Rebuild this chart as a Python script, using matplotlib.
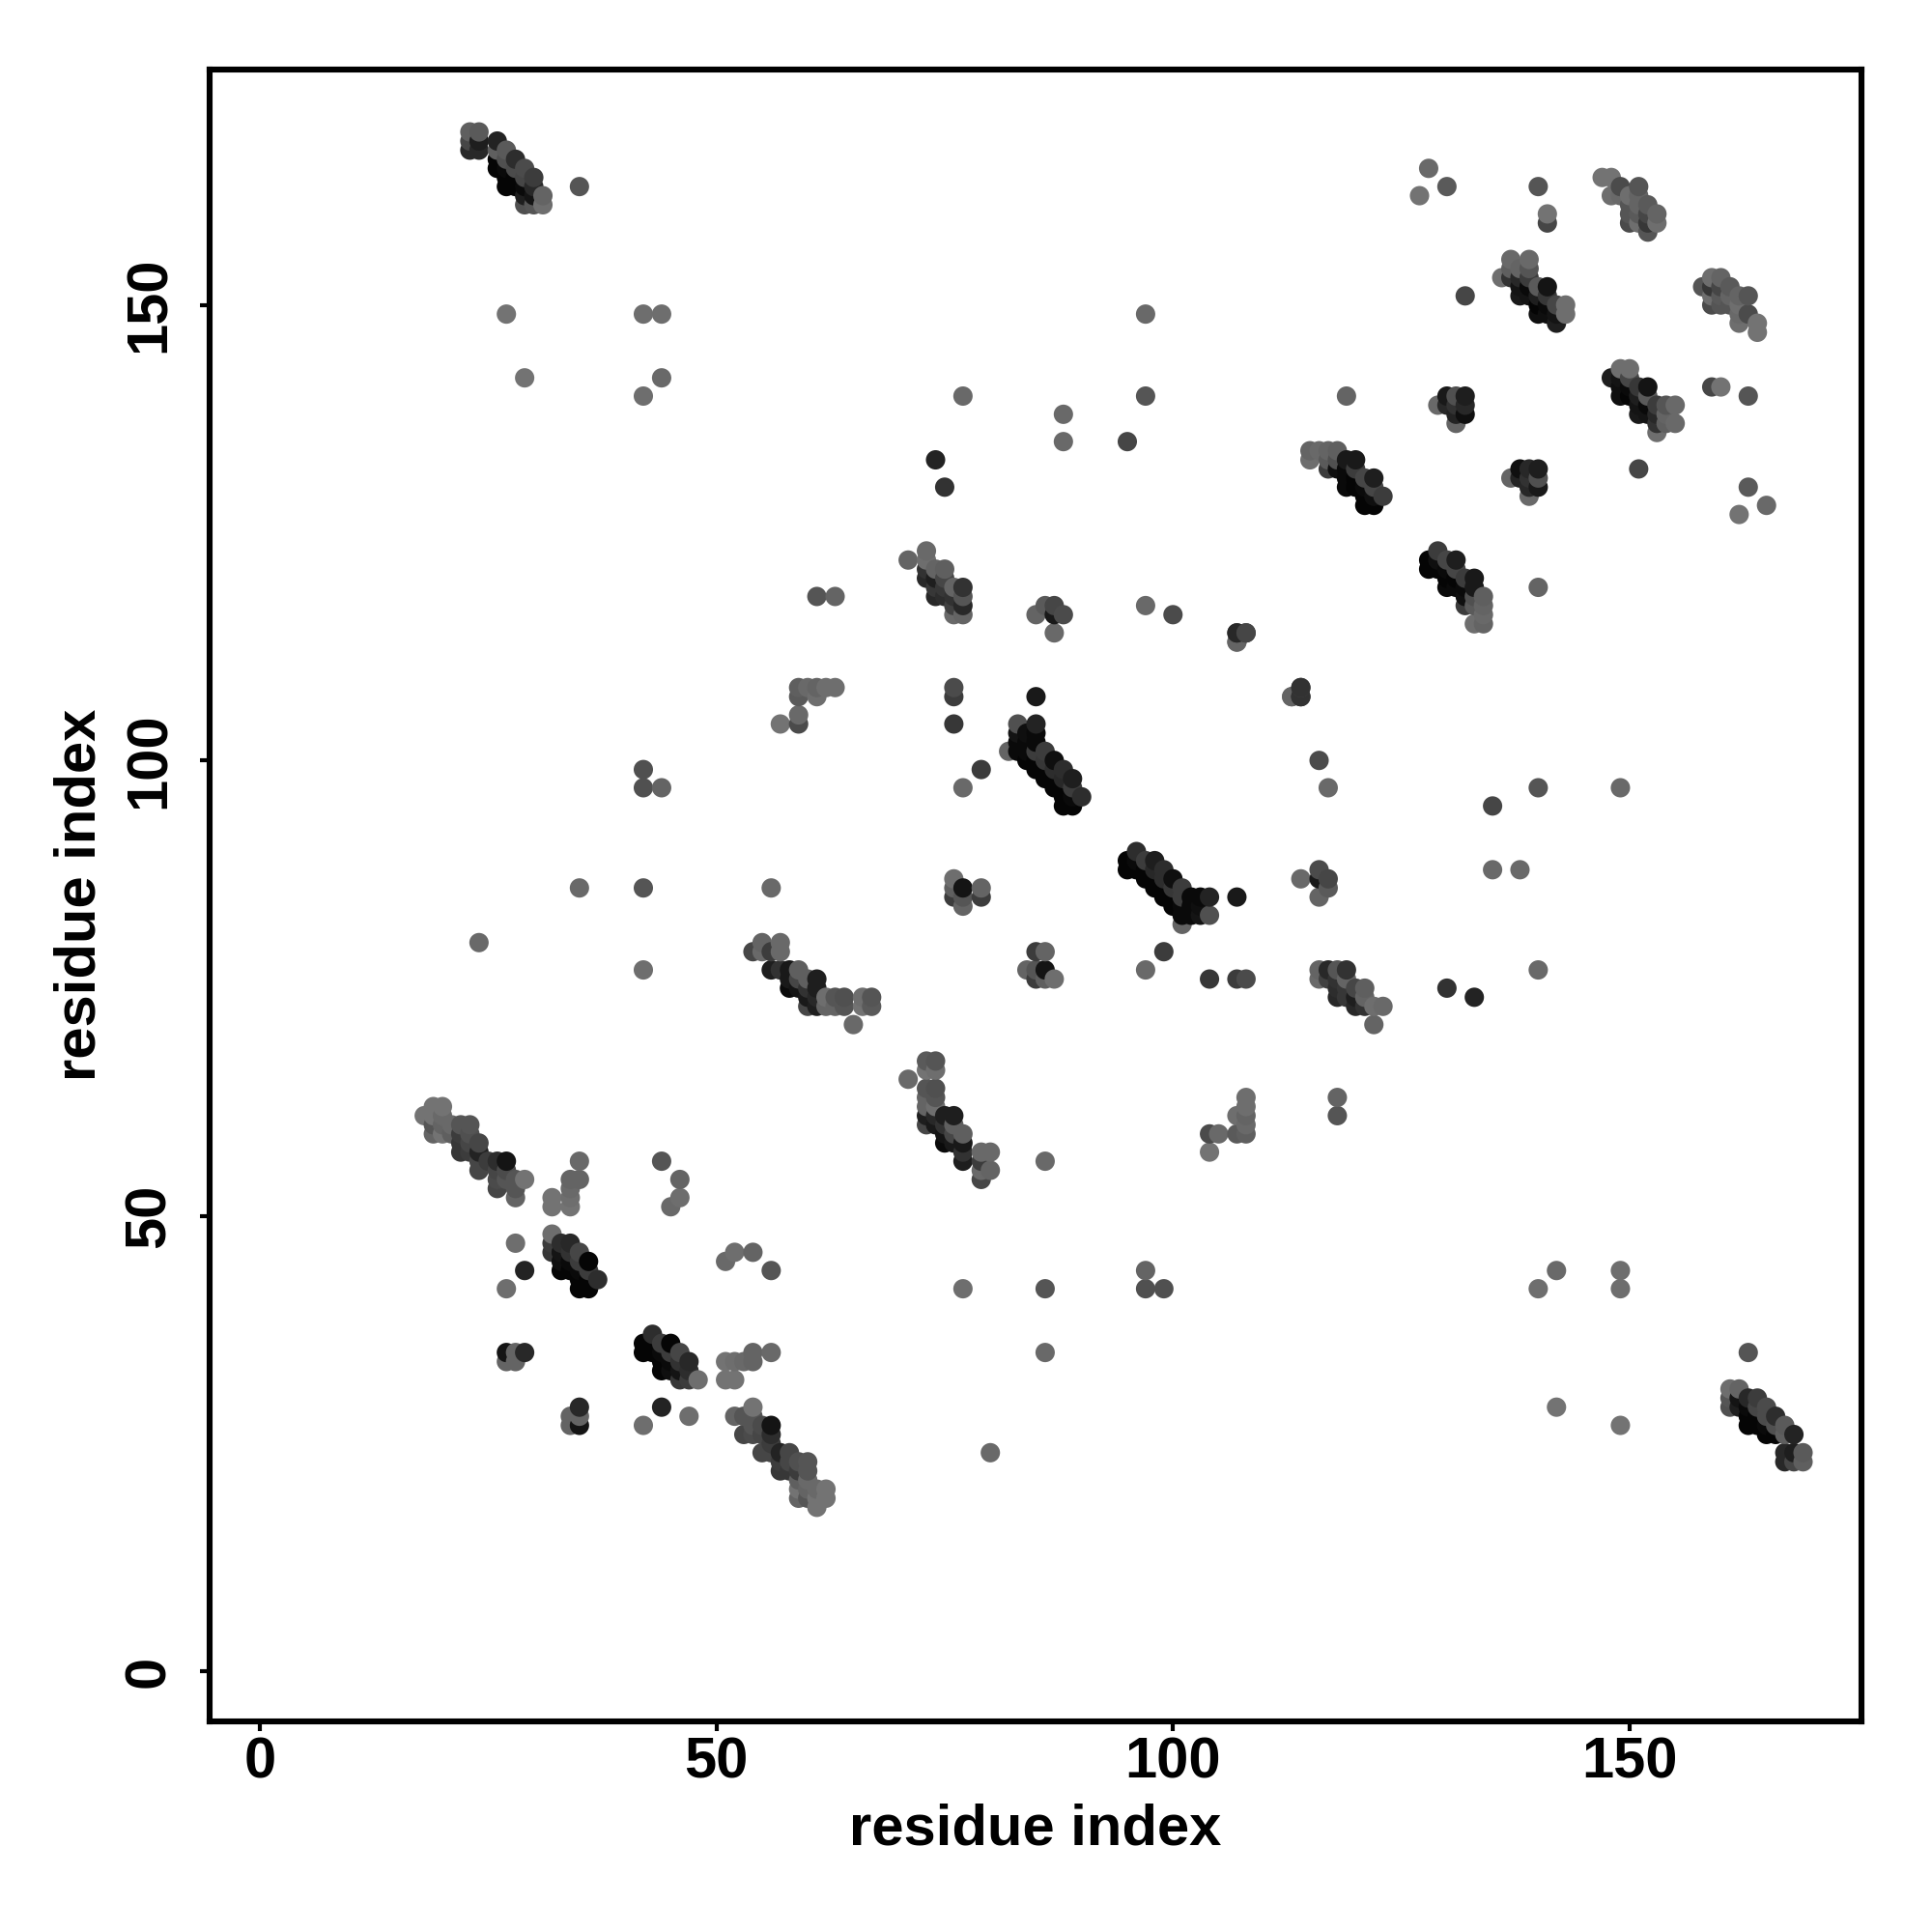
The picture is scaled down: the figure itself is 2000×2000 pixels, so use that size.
import matplotlib

matplotlib.use("Agg")
import matplotlib.pyplot as plt
import pandas as pd

# contacts as (residue i, residue j, grey level), i < j; the map is symmetric
sheet_23_31 = [
    (23, 169, 95), (24, 169, 90), (23, 168, 70), (24, 168, 30), (23, 167, 40), (24, 167, 40),
    (26, 168, 35), (26, 167, 95), (26, 166, 5), (26, 165, 5), (27, 167, 90), (27, 166, 80),
    (27, 165, 10), (27, 164, 5), (27, 163, 5), (28, 166, 45), (28, 165, 75), (28, 164, 5),
    (28, 163, 5), (29, 165, 75), (29, 164, 70), (29, 163, 10), (29, 162, 30), (29, 161, 80),
    (30, 164, 60), (30, 163, 40), (30, 162, 20), (30, 161, 85), (31, 162, 100), (31, 161, 110),
]
sheet_18_29 = [
    (18, 61, 115), (19, 62, 115), (20, 62, 115), (19, 61, 115), (20, 61, 105), (19, 60, 85),
    (20, 60, 100), (19, 59, 100), (20, 59, 115), (21, 60, 105), (21, 59, 95), (22, 60, 85),
    (23, 60, 85), (22, 59, 60), (22, 58, 55), (22, 57, 55), (23, 59, 80), (23, 58, 70),
    (23, 57, 60), (24, 58, 70), (24, 57, 35), (24, 56, 70), (24, 55, 70), (25, 56, 60),
    (26, 56, 45), (27, 56, 20), (26, 55, 70), (26, 54, 75), (26, 53, 70), (27, 55, 75),
    (27, 54, 85), (28, 54, 85), (28, 53, 85), (28, 52, 100), (29, 54, 115),
]
sheet_32_37 = [
    (32, 48, 110), (32, 47, 60), (32, 46, 55), (33, 47, 45), (33, 46, 20), (33, 45, 15),
    (33, 44, 5), (34, 47, 40), (34, 46, 50), (34, 45, 10), (34, 44, 5), (35, 46, 70),
    (35, 45, 60), (35, 44, 10), (35, 43, 5), (35, 42, 5), (36, 45, 5), (36, 44, 60),
    (36, 43, 5), (36, 42, 5), (37, 43, 45),
]
sheet_54_67 = [
    (54, 79, 70), (55, 80, 100), (55, 79, 105), (56, 79, 60), (56, 77, 30), (57, 80, 105),
    (57, 79, 105), (57, 77, 50), (58, 77, 25), (58, 76, 25), (58, 75, 10), (59, 77, 95),
    (59, 76, 70), (59, 75, 20), (60, 76, 95), (60, 75, 50), (60, 74, 25), (60, 73, 70),
    (61, 76, 30), (61, 75, 30), (61, 74, 40), (61, 73, 30), (62, 74, 110), (62, 73, 100),
    (63, 74, 85), (63, 73, 100), (64, 74, 80), (64, 73, 85), (65, 71, 105), (66, 74, 110),
    (66, 73, 115), (67, 74, 85), (67, 73, 90),
]
sheet_71_88 = [
    (71, 122, 100), (73, 123, 105), (73, 122, 110), (73, 121, 50), (73, 120, 40), (74, 121, 100),
    (74, 120, 30), (74, 119, 55), (74, 118, 40), (75, 121, 95), (75, 120, 70), (75, 119, 55),
    (75, 118, 45), (76, 119, 100), (76, 118, 50), (76, 117, 65), (76, 116, 105), (77, 119, 50),
    (77, 118, 85), (77, 117, 40), (77, 116, 100), (85, 116, 100), (86, 117, 90), (87, 117, 70),
    (87, 116, 25), (88, 116, 75), (87, 114, 105),
]
sheet_83_90 = [
    (82, 101, 100), (83, 104, 80), (83, 103, 20), (83, 102, 10), (83, 101, 10), (84, 103, 15),
    (84, 102, 10), (84, 101, 10), (84, 100, 5), (85, 107, 25), (85, 104, 35), (85, 103, 10),
    (85, 102, 10), (85, 101, 60), (85, 100, 5), (85, 99, 5), (86, 101, 60), (86, 100, 55),
    (86, 99, 5), (86, 98, 5), (87, 100, 15), (87, 99, 45), (87, 98, 5), (87, 97, 5),
    (88, 99, 45), (88, 98, 40), (88, 97, 5), (88, 96, 5), (88, 95, 5), (89, 98, 30),
    (89, 97, 60), (89, 96, 10), (89, 95, 5), (90, 96, 45),
]
sheet_115_123 = [
    (115, 134, 100), (115, 133, 110), (116, 134, 105), (117, 134, 100), (117, 133, 90), (117, 132, 60),
    (118, 134, 95), (118, 133, 80), (118, 132, 15), (119, 133, 25), (119, 132, 10), (119, 131, 10),
    (119, 130, 10), (120, 133, 25), (120, 132, 60), (120, 131, 5), (120, 130, 5), (121, 131, 70),
    (121, 130, 10), (121, 129, 5), (121, 128, 5), (122, 131, 30), (122, 130, 70), (122, 129, 15),
    (122, 128, 5), (123, 129, 60),
]
sheet_129_132 = [
    (129, 139, 105), (130, 140, 25), (130, 139, 40), (131, 140, 80), (131, 139, 50), (131, 138, 35),
    (131, 137, 100), (132, 140, 30), (132, 139, 40), (132, 138, 15),
]
sheet_136_143 = [
    (136, 153, 110), (137, 155, 105), (137, 154, 95), (137, 153, 50), (138, 154, 100), (138, 153, 40),
    (138, 152, 20), (138, 151, 25), (139, 155, 105), (139, 154, 85), (139, 153, 60), (139, 152, 10),
    (139, 151, 20), (140, 152, 90), (140, 151, 30), (140, 150, 5), (140, 149, 15), (141, 152, 20),
    (141, 151, 55), (141, 150, 10), (141, 149, 15), (142, 150, 70), (142, 149, 20), (142, 148, 30),
    (143, 150, 110), (143, 149, 110),
]
sheet_147_153 = [
    (147, 164, 115), (148, 164, 115), (148, 162, 110), (149, 163, 75), (149, 162, 105), (150, 162, 110),
    (150, 161, 85), (150, 160, 85), (150, 159, 75), (151, 163, 85), (151, 162, 100), (151, 161, 100),
    (151, 160, 90), (151, 159, 110), (152, 161, 90), (152, 160, 70), (152, 159, 55), (152, 158, 85),
    (153, 160, 100), (153, 159, 110),
]
sparse_low = [
    (24, 80, 105), (27, 149, 115), (29, 142, 115), (42, 149, 110), (44, 149, 110), (42, 140, 110),
    (44, 142, 105), (35, 163, 85), (35, 86, 105), (42, 99, 80), (42, 97, 80), (44, 97, 100),
    (42, 86, 85), (42, 77, 110), (56, 86, 105), (28, 47, 110), (29, 44, 35), (27, 42, 110),
    (32, 52, 115), (32, 51, 115), (34, 54, 100), (35, 54, 100), (34, 53, 105), (34, 52, 110),
    (34, 51, 115), (35, 56, 105), (44, 56, 85), (46, 54, 100), (46, 52, 110), (45, 51, 105),
    (27, 35, 20), (27, 34, 100), (28, 35, 100), (28, 34, 100), (29, 35, 40),
]
sparse_mid = [
    (57, 104, 115), (59, 104, 75), (59, 105, 105), (59, 107, 90), (59, 108, 95), (60, 108, 105),
    (61, 108, 100), (61, 107, 110), (62, 108, 110), (63, 108, 110), (61, 118, 85), (63, 118, 100),
    (76, 108, 75), (76, 107, 60), (76, 104, 55), (77, 97, 105), (76, 87, 110), (76, 86, 95),
    (76, 85, 60), (77, 86, 20), (77, 85, 85), (77, 84, 100), (79, 86, 100), (79, 85, 60),
    (79, 99, 60), (77, 140, 105), (74, 133, 35), (75, 130, 50), (88, 138, 105), (88, 135, 105),
]
sparse_high = [
    (95, 135, 70), (97, 149, 105), (97, 140, 85), (97, 117, 105), (100, 116, 75), (107, 113, 100),
    (107, 114, 50), (108, 114, 50), (113, 107, 100), (114, 107, 40), (114, 108, 70), (119, 140, 100),
    (127, 162, 115), (128, 165, 105), (130, 163, 90), (140, 163, 85), (141, 160, 115), (141, 159, 70),
    (132, 151, 70),
]
sheets = [
    sheet_23_31, sheet_18_29, sheet_32_37, sheet_54_67, sheet_71_88, sheet_83_90, sheet_115_123,
    sheet_129_132, sheet_136_143, sheet_147_153, sparse_low, sparse_mid, sparse_high,
]
tick_values = [0, 50, 100, 150]

plt.rcParams["font.family"] = ["Liberation Sans", "DejaVu Sans"]
plt.rcParams["font.weight"] = "bold"

rows = [row for sheet in sheets for row in sheet]
upper = pd.DataFrame(rows, columns=["i", "j", "grey"])
lower = upper.rename(columns={"i": "j", "j": "i"})
contacts = pd.concat([upper, lower]).sort_values(["i", "j"])
colors = [(g / 255, g / 255, g / 255) for g in contacts["grey"]]

fig = plt.figure(figsize=(10, 10), dpi=200)
ax = fig.add_axes([217 / 2000, 1 - 1782 / 2000, 1710 / 2000, 1710.5 / 2000])
ax.scatter(contacts["i"], contacts["j"], s=52, c=colors, linewidths=0, zorder=3)

ax.set_xlim(-5.5, 175.4)
ax.set_ylim(-5.5, 175.9)
ax.set_xticks(tick_values)
ax.set_yticks(tick_values)
ax.tick_params(length=3.5, width=1.5, labelsize=21.5)
ax.tick_params(axis="x", pad=2)
ax.tick_params(axis="y", pad=9)
for label in ax.get_yticklabels():
    label.set_rotation(90)
    label.set_verticalalignment("center")
for spine in ax.spines.values():
    spine.set_linewidth(2.2)
ax.set_xlabel("residue index", fontsize=21.5, fontweight="bold", labelpad=5)
ax.set_ylabel("residue index", fontsize=21.5, fontweight="bold", labelpad=6)

fig.savefig("out.png", dpi=200)
